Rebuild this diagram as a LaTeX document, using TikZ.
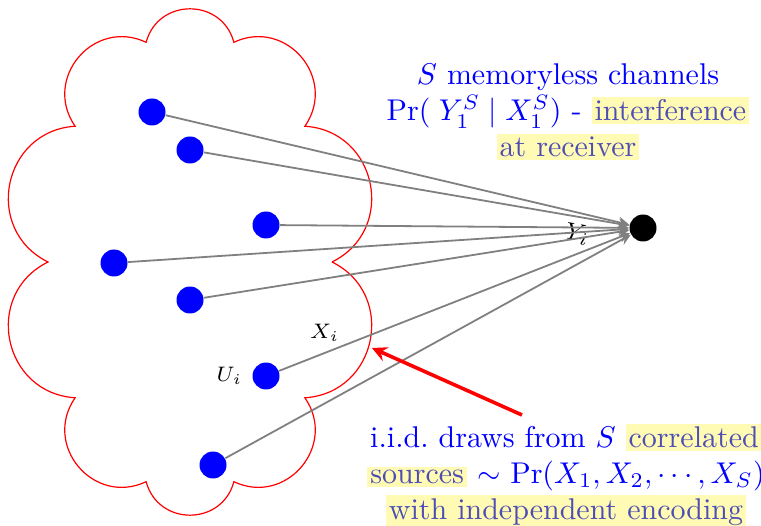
\documentclass[tikz,border=0pt]{standalone}
\usetikzlibrary{arrows}
\definecolor{hlblue}{RGB}{77,77,179}
\definecolor{hlyellow}{RGB}{255,250,180}
\newcommand{\hlt}[1]{{\setlength{\fboxsep}{1pt}\colorbox{hlyellow}{\textcolor{hlblue}{#1}}}}

\begin{document}
\begin{tikzpicture}[x=0.01172cm,y=-0.01172cm,
    dot/.style={circle,fill=blue,inner sep=0pt,minimum size=9pt},
    chan/.style={draw=gray,semithick,-stealth},
    lbl/.style={font=\scriptsize,inner sep=1pt}]
  \useasboundingbox (0,0) rectangle (761,526);
  % cloud of sources
  \draw[red] (332,262) \foreach \k in {1,...,10}
    { to[bend right=75,looseness=1.35] ({190+142*cos(36*\k)},{262-231*sin(36*\k)}) };
  \node[dot] (src1) at (152,112) {};
  \node[dot] (src2) at (190,150) {};
  \node[dot] (src3) at (266,225) {};
  \node[dot] (src4) at (114,263) {};
  \node[dot] (src5) at (190,300) {};
  \node[dot,label={[lbl,xshift=-2pt]left:$U_i$}] (src6) at (266,376) {};
  \node[dot] (src7) at (213,465) {};
  \node[circle,fill=black,inner sep=0pt,minimum size=9pt] (rx) at (643,228) {};
  % channels
  \draw[chan] (src1) -- (rx);
  \draw[chan] (src2) -- node[lbl,font=\footnotesize,pos=0.885,sloped,below=1pt] {$Y_i$} (rx);
  \draw[chan] (src3) -- (rx);
  \draw[chan] (src4) -- (rx);
  \draw[chan] (src5) -- (rx);
  \draw[chan] (src6) -- node[lbl,pos=0.13,above=2.5pt] {$X_i$} (rx);
  \draw[chan] (src7) -- (rx);
  % texts
  \node[align=center,text=blue] (chantxt) at (568,112)
    {$S$ memoryless channels\\
     $\Pr(\;Y_1^S \mid X_1^S)$ - \hlt{interference}\\
     \hlt{at receiver}};
  \node[align=center,text=blue] (srctxt) at (566,476)
    {i.i.d.\ draws from $S$ \hlt{correlated}\\
     \hlt{sources} $\sim$\ $\Pr(X_1, X_2, \cdots, X_S)$\\
     \hlt{with independent encoding}};
  \coordinate (tail) at (522,415);
  \coordinate (head) at (372,348);
  \draw[red,very thick,-stealth] (tail) -- (head);
\end{tikzpicture}
\end{document}
